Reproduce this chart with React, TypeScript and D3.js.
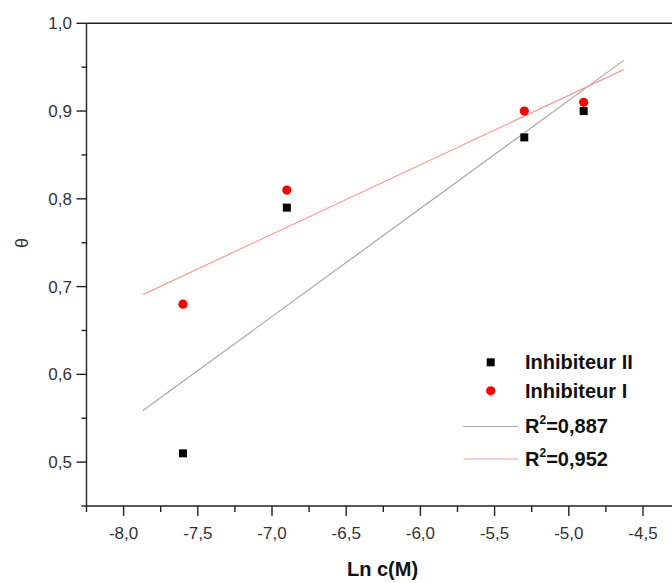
import React from "react";
import * as d3 from "d3";

const lnC = [-7.6, -6.9, -5.3, -4.9];
const thetaInhibII = [0.51, 0.79, 0.87, 0.9];
const thetaInhibI = [0.68, 0.81, 0.9, 0.91];
const xTicks = [-8.0, -7.5, -7.0, -6.5, -6.0, -5.5, -5.0, -4.5];
const yTicks = [0.5, 0.6, 0.7, 0.8, 0.9, 1.0];
const legendLabels = ["Inhibiteur II", "Inhibiteur I", "0,887", "0,952"];

const W = 672;
const H = 583;
const margin = { left: 86.5, top: 23.3, right: 673, bottom: 506 };
const FONT = "'Liberation Sans', Arial, sans-serif";

function fit(xs: number[], ys: number[]) {
  const mx = d3.mean(xs)!;
  const my = d3.mean(ys)!;
  let sxy = 0;
  let sxx = 0;
  xs.forEach((x, i) => {
    sxy += (x - mx) * (ys[i] - my);
    sxx += (x - mx) * (x - mx);
  });
  const slope = sxy / sxx;
  const intercept = my - slope * mx;
  return { slope, intercept };
}

const fmt = (v: number) => v.toFixed(1).replace(".", ",");

export default function App() {
  const x = d3.scaleLinear().domain([-8.25, -4.3]).range([margin.left, margin.left + (4.0 - 0.05) * 148.4]);
  const y = d3.scaleLinear().domain([0.45, 1.0]).range([margin.bottom, margin.top]);

  const [xMin, xMax] = d3.extent(lnC) as [number, number];
  const ext = (xMax - xMin) * 0.1;
  const fitX = [xMin - ext, xMax + ext];
  const line = d3
    .line<number>()
    .x((d) => x(d))
    .y((d) => d);

  const fitII = fit(lnC, thetaInhibII);
  const fitI = fit(lnC, thetaInhibI);
  const lineGen = (f: { slope: number; intercept: number }) =>
    d3.line<number>().x((d) => x(d)).y((d) => y(f.intercept + f.slope * d))(fitX) || "";

  const minorX = d3.range(-8.25, -4.2, 0.25).filter((v) => !xTicks.some((t) => Math.abs(t - v) < 1e-6));
  const minorY = d3.range(0.45, 1.0, 0.1).map((v) => +v.toFixed(2));

  const axisColor = "#222";
  const labelColor = "#333";

  const lx = 490.7;
  const tx = 525;
  const rows = [362.3, 390.8, 425.5, 459];

  return (
    <svg width={W} height={H} style={{ position: "absolute", left: 0, top: 0, background: "#fff" }}>
      <rect x={0} y={0} width={W} height={H} fill="#fff" />
      {/* frame */}
      <line x1={margin.left} x2={W + 5} y1={margin.top} y2={margin.top} stroke={axisColor} strokeWidth={1.4} />
      <line x1={margin.left} x2={margin.left} y1={margin.top} y2={margin.bottom} stroke={axisColor} strokeWidth={1.4} />
      <line x1={margin.left - 0.7} x2={W + 5} y1={margin.bottom} y2={margin.bottom} stroke={axisColor} strokeWidth={1.4} />

      {/* y ticks */}
      {yTicks.map((t) => (
        <g key={"y" + t}>
          <line x1={margin.left - 10} x2={margin.left} y1={y(t)} y2={y(t)} stroke={axisColor} strokeWidth={1.4} />
          <text x={72} y={y(t) + 6} textAnchor="end" fontFamily={FONT} fontSize={17} fill={labelColor}>
            {fmt(t)}
          </text>
        </g>
      ))}
      {minorY.map((t) => (
        <line key={"ym" + t} x1={margin.left - 5} x2={margin.left} y1={y(t)} y2={y(t)} stroke={axisColor} strokeWidth={1.4} />
      ))}

      {/* x ticks */}
      {xTicks.map((t) => (
        <g key={"x" + t}>
          <line x1={x(t)} x2={x(t)} y1={margin.bottom} y2={margin.bottom + 10} stroke={axisColor} strokeWidth={1.4} />
          <text x={x(t)} y={539} textAnchor="middle" fontFamily={FONT} fontSize={17} fill={labelColor}>
            {fmt(t)}
          </text>
        </g>
      ))}
      {minorX.map((t) => (
        <line key={"xm" + t} x1={x(t)} x2={x(t)} y1={margin.bottom} y2={margin.bottom + 6} stroke={axisColor} strokeWidth={1.4} />
      ))}

      {/* axis titles */}
      <text x={382.5} y={576} textAnchor="middle" fontFamily={FONT} fontSize={20} fontWeight="bold" fill="#111">
        Ln c(M)
      </text>
      <text
        transform={`translate(28, 243) rotate(-90)`}
        textAnchor="middle"
        fontFamily={FONT}
        fontSize={18}
        fill={labelColor}
      >
        θ
      </text>

      {/* fit lines */}
      <path d={lineGen(fitII)} fill="none" stroke="#a8a8a8" strokeWidth={1.2} />
      <path d={lineGen(fitI)} fill="none" stroke="#ff9a9a" strokeWidth={1.2} />

      {/* points */}
      {lnC.map((v, i) => (
        <rect key={"s" + i} x={x(v) - 4} y={y(thetaInhibII[i]) - 4} width={8} height={8} fill="#000" />
      ))}
      {lnC.map((v, i) => (
        <circle key={"c" + i} cx={x(v)} cy={y(thetaInhibI[i])} r={4.6} fill="#ff0000" />
      ))}

      {/* legend */}
      <rect x={lx - 4} y={rows[0] - 4} width={8} height={8} fill="#000" />
      <text x={tx} y={rows[0] + 7} fontFamily={FONT} fontSize={20} fontWeight="bold" fill="#111">
        {legendLabels[0]}
      </text>
      <circle cx={lx} cy={rows[1]} r={4.6} fill="#ff0000" />
      <text x={tx} y={rows[1] + 7} fontFamily={FONT} fontSize={20} fontWeight="bold" fill="#111">
        {legendLabels[1]}
      </text>
      <line x1={463.3} x2={518.3} y1={rows[2] + 1} y2={rows[2] + 1} stroke="#a8a8a8" strokeWidth={1.2} />
      <text x={tx} y={rows[2] + 7} fontFamily={FONT} fontSize={20} fontWeight="bold" fill="#111">
        R<tspan fontSize={12} dy={-9}>2</tspan>
        <tspan dy={9}>={legendLabels[2]}</tspan>
      </text>
      <line x1={463.3} x2={518.3} y1={rows[3]} y2={rows[3]} stroke="#ff9a9a" strokeWidth={1.2} />
      <text x={tx} y={rows[3] + 7} fontFamily={FONT} fontSize={20} fontWeight="bold" fill="#111">
        R<tspan fontSize={12} dy={-9}>2</tspan>
        <tspan dy={9}>={legendLabels[3]}</tspan>
      </text>
    </svg>
  );
}
